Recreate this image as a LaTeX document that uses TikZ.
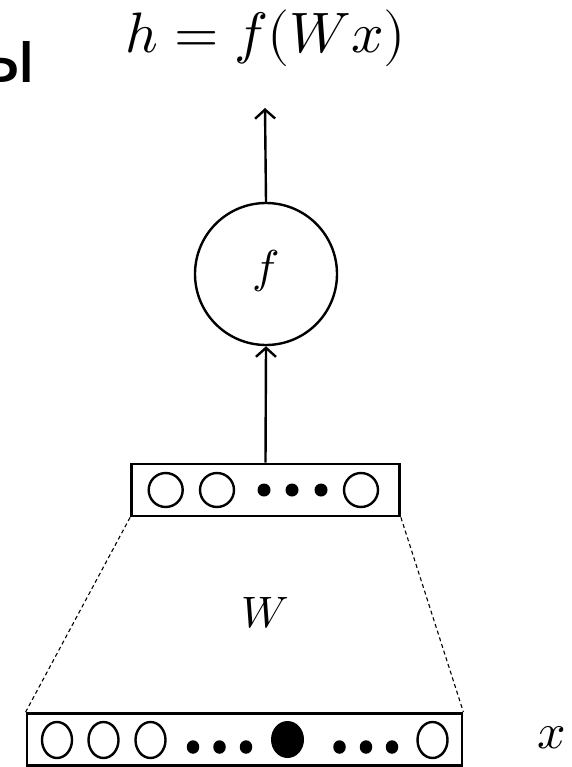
\documentclass[tikz,border=0pt]{standalone}
\usepackage{unicode-math}
\setmathfont{Latin Modern Math}
\newfontfamily\cyrfont{DejaVu Sans}
\usetikzlibrary{arrows.meta,shapes.geometric}
\begin{document}
\begin{tikzpicture}[x=1pt,y=-1pt,
  boxst/.style={draw,line width=2.8pt},
  unit/.style={draw,line width=2.4pt},
  dotst/.style={fill=black},
  conn/.style={line width=2.4pt,-{Straight Barb[length=9pt,width=20pt,line width=2.4pt]}},
  dashl/.style={line width=1.1pt,dash pattern=on 4pt off 3pt},
  lab/.style={inner sep=0pt}]
\useasboundingbox (0,0) rectangle (571,767);
% clipped cyrillic letter
\begin{scope}
\clip (0,0) rectangle (571,767);
\node[lab,anchor=base east,font=\cyrfont\fontsize{75}{80}\selectfont] (cyr) at (37,83) {ы};
\end{scope}
% title
\node[lab,font=\fontsize{57}{60}\selectfont] (title) at (266,38) {$h=f(Wx)$};
% activation circle
\node[circle,draw,line width=2.4pt,minimum size=142pt,inner sep=0pt] (fc) at (266,274) {};
\node[lab,font=\fontsize{46}{50}\selectfont] (flab) at (266,271) {$f$};
\coordinate (top) at (265,108);
% hidden box
\node[boxst,minimum width=268pt,minimum height=52pt,inner sep=0pt] (hbox) at (265.5,490) {};
\foreach \cx/\n in {165.7/a,217/b,361/c}{
  \node[unit,circle,minimum size=34pt,inner sep=0pt] (hu\n) at (\cx,490) {};
}
\foreach \cx/\n in {264/a,292/b,321/c}{
  \node[dotst,circle,minimum size=13pt,inner sep=0pt] (hd\n) at (\cx,490) {};
}
% input box
\node[boxst,minimum width=435pt,minimum height=52pt,inner sep=0pt] (ibox) at (244.5,739.5) {};
\foreach \cx/\n in {57/a,103.5/b,150.5/c,432.5/d}{
  \node[unit,ellipse,minimum width=30pt,minimum height=36pt,inner sep=0pt] (xu\n) at (\cx,740) {};
}
\node[dotst,ellipse,minimum width=33pt,minimum height=37pt,inner sep=0pt] (xhot) at (287.5,739.5) {};
\foreach \cx/\n in {193/a,219.5/b,246/c,339.5/d,366/e,392/f}{
  \node[dotst,ellipse,minimum width=12.5pt,minimum height=13.5pt,inner sep=0pt] (xd\n) at (\cx,747) {};
}
\node[lab,font=\fontsize{50}{54}\selectfont] (xlab) at (552,738) {$x$};
\node[lab,font=\fontsize{44}{48}\selectfont] (wlab) at (265,613) {$W$};
% connectors
\draw[conn] (hbox.north) -- (fc.south);
\draw[conn] (fc.north) -- (top);
\draw[dashl] (hbox.south west) -- (ibox.north west);
\draw[dashl] (hbox.south east) -- (ibox.north east);
\end{tikzpicture}
\end{document}
